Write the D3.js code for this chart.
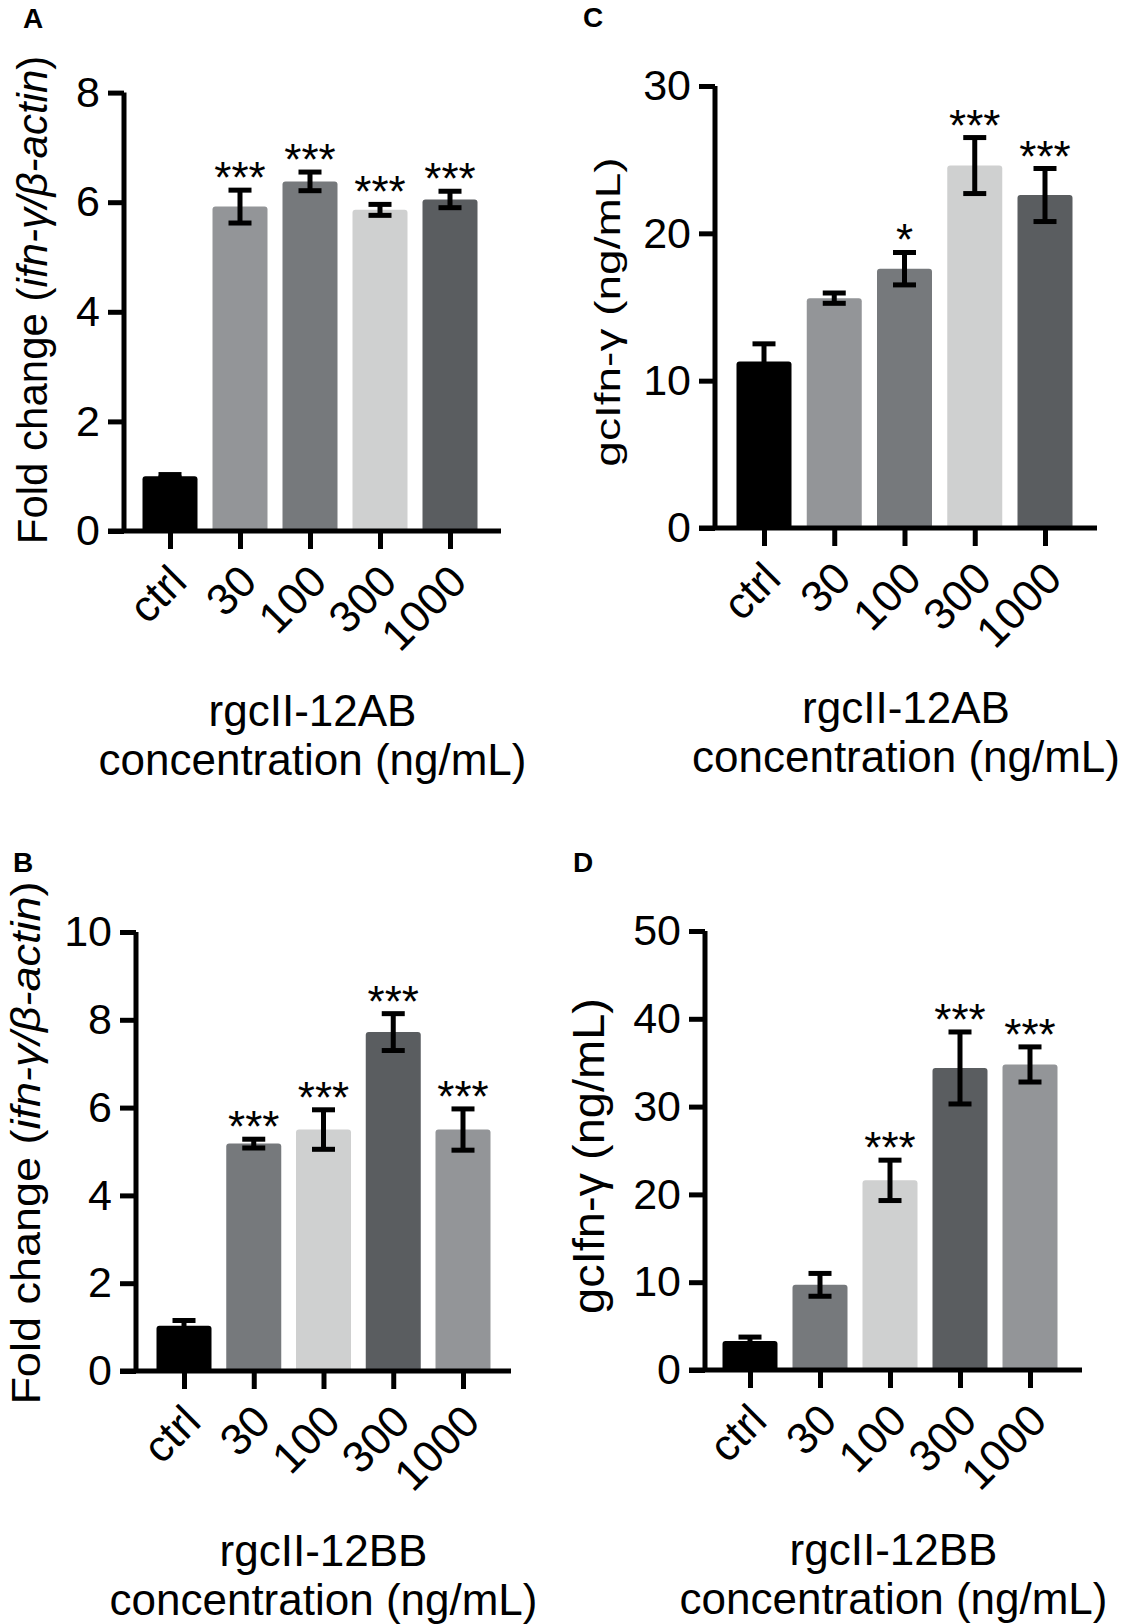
<!DOCTYPE html>
<html><head><meta charset="utf-8">
<script src="https://cdn.jsdelivr.net/npm/d3@7"></script>
<style>html,body{margin:0;padding:0;background:#fff;} svg{display:block;}</style>
</head><body>
<svg id="fig" width="1125" height="1624"></svg>
<script>
// ---------- data ----------
const categories = ["ctrl", "30", "100", "300", "1000"];

const valuesA = [1.0, 5.92, 6.38, 5.86, 6.05];
const errorsA = [0.03, 0.30, 0.17, 0.10, 0.15];
const starsA  = ["", "***", "***", "***", "***"];
const ticksA  = [0, 2, 4, 6, 8];

const valuesC = [11.3, 15.6, 17.6, 24.6, 22.6];
const errorsC = [1.20, 0.35, 1.10, 1.90, 1.80];
const starsC  = ["", "", "*", "***", "***"];
const ticksC  = [0, 10, 20, 30];

const valuesB = [1.03, 5.18, 5.50, 7.72, 5.50];
const errorsB = [0.12, 0.10, 0.45, 0.42, 0.47];
const starsB  = ["", "***", "***", "***", "***"];
const ticksB  = [0, 2, 4, 6, 8, 10];

const valuesD = [3.3, 9.7, 21.6, 34.4, 34.8];
const errorsD = [0.45, 1.30, 2.30, 4.10, 2.00];
const starsD  = ["", "", "***", "***", "***"];
const ticksD  = [0, 10, 20, 30, 40, 50];

const colorsAC = ["#000000", "#939598", "#76797c", "#cfd0d0", "#5a5d60"];
const colorsBD = ["#000000", "#76797c", "#cfd0d0", "#5a5d60", "#939598"];

// ---------- layout ----------
const FONT = "'Liberation Sans', Arial, Helvetica, sans-serif";
const svg = d3.select("#fig");

const panels = [
  {letter:"A", lx:23, ly:28, vals:valuesA, errs:errorsA, stars:starsA, ticks:ticksA, colors:colorsAC,
   axisX:124, axisEnd:501, c0:170, c4:450, y0:531, yTop:92.6, max:8,
   ytitle:"fold", ytx:47, yty:300, ytSize:42, ytSquash:1, xtitle:"rgcII-12AB"},
  {letter:"C", lx:583, ly:27, vals:valuesC, errs:errorsC, stars:starsC, ticks:ticksC, colors:colorsAC,
   axisX:715, axisEnd:1097, c0:764, c4:1045, y0:528, yTop:86, max:30,
   ytitle:"gc", ytx:620, yty:312, ytSize:46, ytSquash:0.78, xtitle:"rgcII-12AB"},
  {letter:"B", lx:13, ly:872, vals:valuesB, errs:errorsB, stars:starsB, ticks:ticksB, colors:colorsBD,
   axisX:136, axisEnd:511, c0:184, c4:463, y0:1371, yTop:932, max:10,
   ytitle:"fold", ytx:40, yty:1143, ytSize:45, ytSquash:0.92, xtitle:"rgcII-12BB"},
  {letter:"D", lx:573, ly:872, vals:valuesD, errs:errorsD, stars:starsD, ticks:ticksD, colors:colorsBD,
   axisX:705, axisEnd:1082, c0:750, c4:1030, y0:1370, yTop:931, max:50,
   ytitle:"gc", ytx:604, yty:1156, ytSize:47, ytSquash:0.95, xtitle:"rgcII-12BB"}
];

const SW = 5, BARW = 55, CAPW = 23;

panels.forEach(p => {
  const g = svg.append("g");
  const y = d3.scaleLinear().domain([0, p.max]).range([p.y0, p.yTop]);
  const x = d3.scalePoint().domain(categories).range([p.c0, p.c4]);
  const data = categories.map((c, i) => ({c, v:p.vals[i], e:p.errs[i], s:p.stars[i], col:p.colors[i]}));

  // bars
  g.selectAll("rect.bar").data(data).join("rect")
    .attr("class", "bar")
    .attr("x", d => x(d.c) - BARW/2)
    .attr("width", BARW)
    .attr("y", d => y(d.v))
    .attr("height", d => p.y0 - y(d.v) + 2)
    .attr("rx", 3)
    .attr("fill", d => d.col);

  // error bars
  const eg = g.selectAll("g.err").data(data).join("g").attr("class", "err")
    .attr("stroke", "#000").attr("stroke-width", SW).attr("fill", "none");
  eg.append("line").attr("x1", d => x(d.c)).attr("x2", d => x(d.c))
    .attr("y1", d => y(d.v + d.e)).attr("y2", d => y(d.v - d.e));
  eg.append("line").attr("x1", d => x(d.c) - CAPW/2).attr("x2", d => x(d.c) + CAPW/2)
    .attr("y1", d => y(d.v + d.e)).attr("y2", d => y(d.v + d.e));
  eg.append("line").attr("x1", d => x(d.c) - CAPW/2).attr("x2", d => x(d.c) + CAPW/2)
    .attr("y1", d => y(d.v - d.e)).attr("y2", d => y(d.v - d.e));

  // stars
  g.selectAll("text.star").data(data.filter(d => d.s)).join("text")
    .attr("class", "star")
    .attr("x", d => x(d.c))
    .attr("y", d => y(d.v + d.e) + 3)
    .attr("text-anchor", "middle")
    .attr("font-family", FONT).attr("font-size", 44)
    .text(d => d.s);

  // y axis
  const yAxis = d3.axisLeft(y).tickValues(p.ticks).tickSize(16).tickPadding(8).tickFormat(d3.format("d"));
  const ya = g.append("g").attr("transform", `translate(${p.axisX},0)`).call(yAxis);
  ya.select(".domain").attr("d", `M0,${p.yTop}V${p.y0}`).attr("stroke", "#000").attr("stroke-width", SW);
  ya.selectAll(".tick line").attr("stroke", "#000").attr("stroke-width", SW);
  ya.selectAll(".tick text").attr("font-family", FONT).attr("font-size", 43).attr("fill", "#000");

  // x axis
  const xAxis = d3.axisBottom(x).tickSize(18).tickPadding(0).tickFormat("");
  const xa = g.append("g").attr("transform", `translate(0,${p.y0})`).call(xAxis);
  xa.select(".domain").attr("d", `M${p.axisX - 16},0H${p.axisEnd}`).attr("stroke", "#000").attr("stroke-width", SW);
  xa.selectAll(".tick line").attr("stroke", "#000").attr("stroke-width", SW);

  // rotated category labels
  g.selectAll("text.cat").data(categories).join("text")
    .attr("class", "cat")
    .attr("transform", c => `translate(${x(c) + 19},${p.y0 + 53}) rotate(-45)`)
    .attr("text-anchor", "end")
    .attr("font-family", FONT).attr("font-size", 44)
    .text(c => c);

  // x title
  const cx = (p.axisX + p.axisEnd) / 2;
  g.append("text").attr("x", cx).attr("y", p.y0 + 195).attr("text-anchor", "middle")
    .attr("font-family", FONT).attr("font-size", 44).text(p.xtitle);
  g.append("text").attr("x", cx).attr("y", p.y0 + 244).attr("text-anchor", "middle")
    .attr("font-family", FONT).attr("font-size", 44).text("concentration (ng/mL)");

  // y title
  const yt = g.append("text")
    .attr("transform", `translate(${p.ytx},${p.yty}) rotate(-90) scale(1,${p.ytSquash})`)
    .attr("text-anchor", "middle")
    .attr("font-family", FONT).attr("font-size", p.ytSize);
  if (p.ytitle === "fold") {
    yt.append("tspan").text("Fold change (");
    yt.append("tspan").attr("font-style", "italic").text("ifn-γ/β-actin");
    yt.append("tspan").text(")");
  } else {
    yt.text("gcIfn-γ (ng/mL)");
  }

  // panel letter
  g.append("text").attr("x", p.lx).attr("y", p.ly)
    .attr("font-family", FONT).attr("font-weight", "bold").attr("font-size", 28)
    .text(p.letter);
});
</script>
</body></html>
